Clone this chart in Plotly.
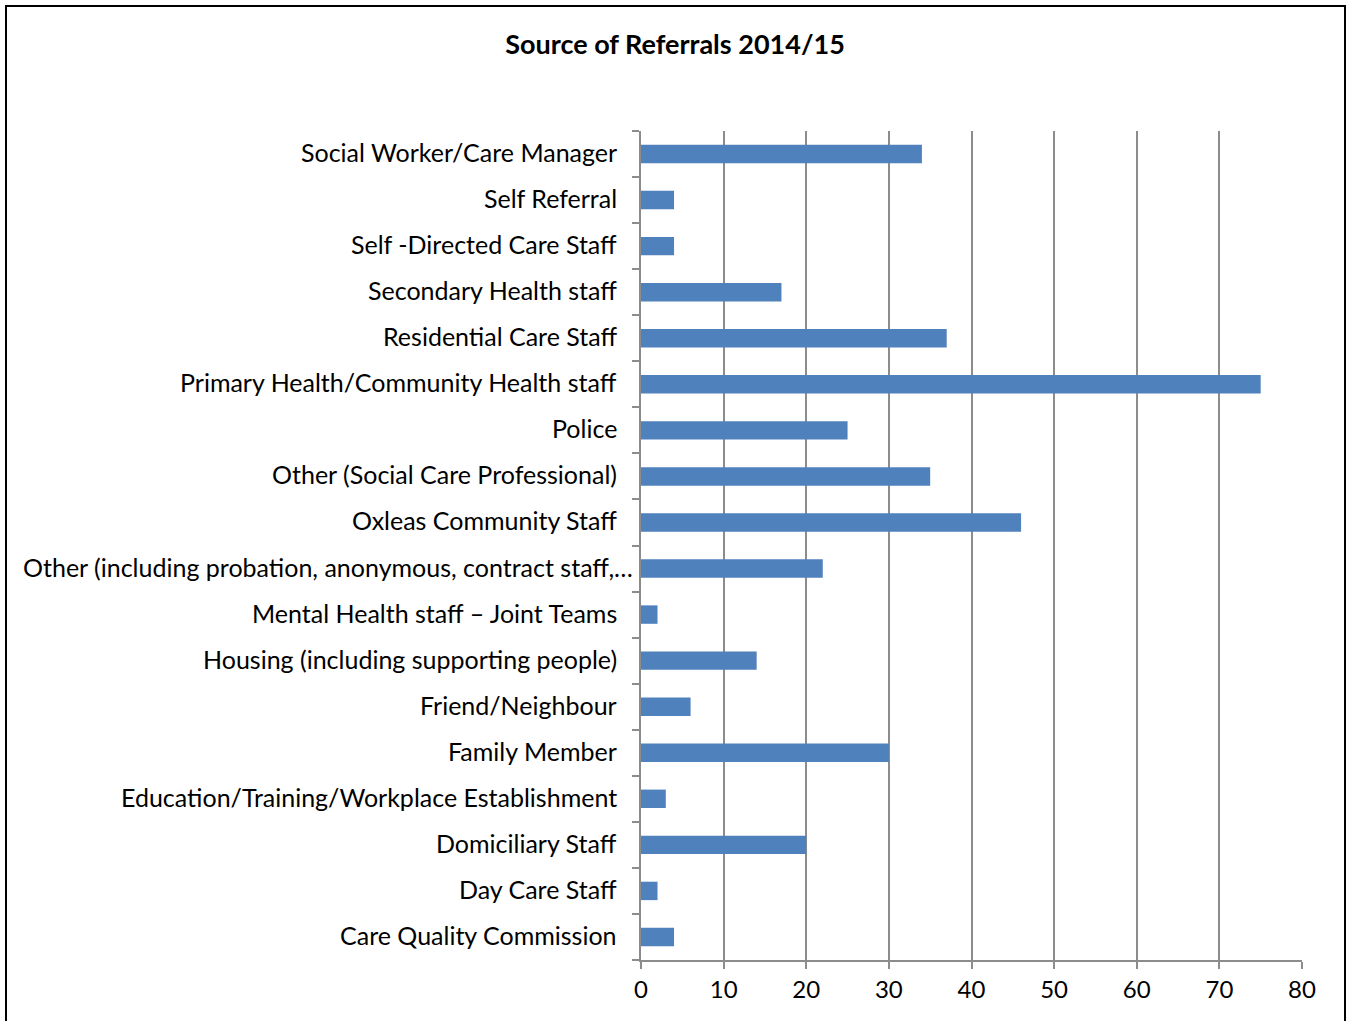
import plotly.graph_objects as go

categories = [
    "Care Quality Commission",
    "Day Care Staff",
    "Domiciliary Staff",
    "Education/Training/Workplace Establishment",
    "Family Member",
    "Friend/Neighbour",
    "Housing (including supporting people)",
    "Mental Health staff \u2013 Joint Teams",
    "Other (including probation, anonymous, contract staff,\u2026",
    "Oxleas Community Staff",
    "Other (Social Care Professional)",
    "Police",
    "Primary Health/Community Health staff",
    "Residential Care Staff",
    "Secondary Health staff",
    "Self -Directed Care Staff",
    "Self Referral",
    "Social Worker/Care Manager",
]
values = [4, 2, 20, 3, 30, 6, 14, 2, 22, 46, 35, 25, 75, 37, 17, 4, 4, 34]
x_ticks = [0, 10, 20, 30, 40, 50, 60, 70, 80]

FONT = "Lato"
W, H = 1349, 1021
L, R, T, B = 641, 47, 131, 61
PW, PH = W - L - R, H - T - B

fig = go.Figure(
    go.Bar(
        x=values,
        y=categories,
        orientation="h",
        marker=dict(color="#4F81BD", line=dict(width=0)),
        width=0.4,
    )
)

fig.update_layout(
    width=W,
    height=H,
    margin=dict(l=L, r=R, t=T, b=B),
    paper_bgcolor="white",
    plot_bgcolor="white",
    showlegend=False,
    font=dict(family=FONT, size=25, color="black"),
    title=dict(
        text="<b>Source of Referrals 2014/15</b>",
        x=675 / W,
        xref="container",
        xanchor="center",
        y=1 - 45 / H,
        yref="container",
        yanchor="middle",
        font=dict(family=FONT, size=27, color="black"),
    ),
)

fig.update_xaxes(
    range=[0, 80],
    tickvals=x_ticks,
    showgrid=True,
    gridcolor="#8C8C8C",
    gridwidth=2,
    showline=True,
    linecolor="#8C8C8C",
    linewidth=2,
    ticks="outside",
    ticklen=7,
    tickwidth=2,
    tickcolor="#8C8C8C",
    zeroline=False,
    tickfont=dict(family=FONT, size=24),
    automargin=False,
    fixedrange=True,
)
fig.update_yaxes(
    type="category",
    categoryorder="array",
    categoryarray=categories,
    showline=True,
    linecolor="#8C8C8C",
    linewidth=2,
    ticks="outside",
    tickson="boundaries",
    ticklen=7,
    tickwidth=2,
    tickcolor="#8C8C8C",
    showgrid=False,
    showticklabels=False,
    automargin=False,
    fixedrange=True,
)

# category labels (Excel right-aligns them; the truncated one sits a bit further right)
for cat in categories:
    right_px = 635 if cat.endswith("\u2026") else 619
    fig.add_annotation(
        x=(right_px - L) / PW,
        xref="paper",
        y=cat,
        yref="y",
        yshift=2,
        text=cat,
        showarrow=False,
        xanchor="right",
        yanchor="middle",
        font=dict(family=FONT, size=25, color="black"),
    )

# outer chart border
fig.add_shape(
    type="rect",
    xref="paper",
    yref="paper",
    x0=(6 - L) / PW,
    x1=(1345 - L) / PW,
    y0=((H - B) - 1030) / PH,
    y1=((H - B) - 6) / PH,
    line=dict(color="black", width=2),
    fillcolor="rgba(0,0,0,0)",
    layer="below",
)

fig.write_html(
    "out.html",
    config={"displayModeBar": False},
    post_script="document.body.style.margin='0';",
)
